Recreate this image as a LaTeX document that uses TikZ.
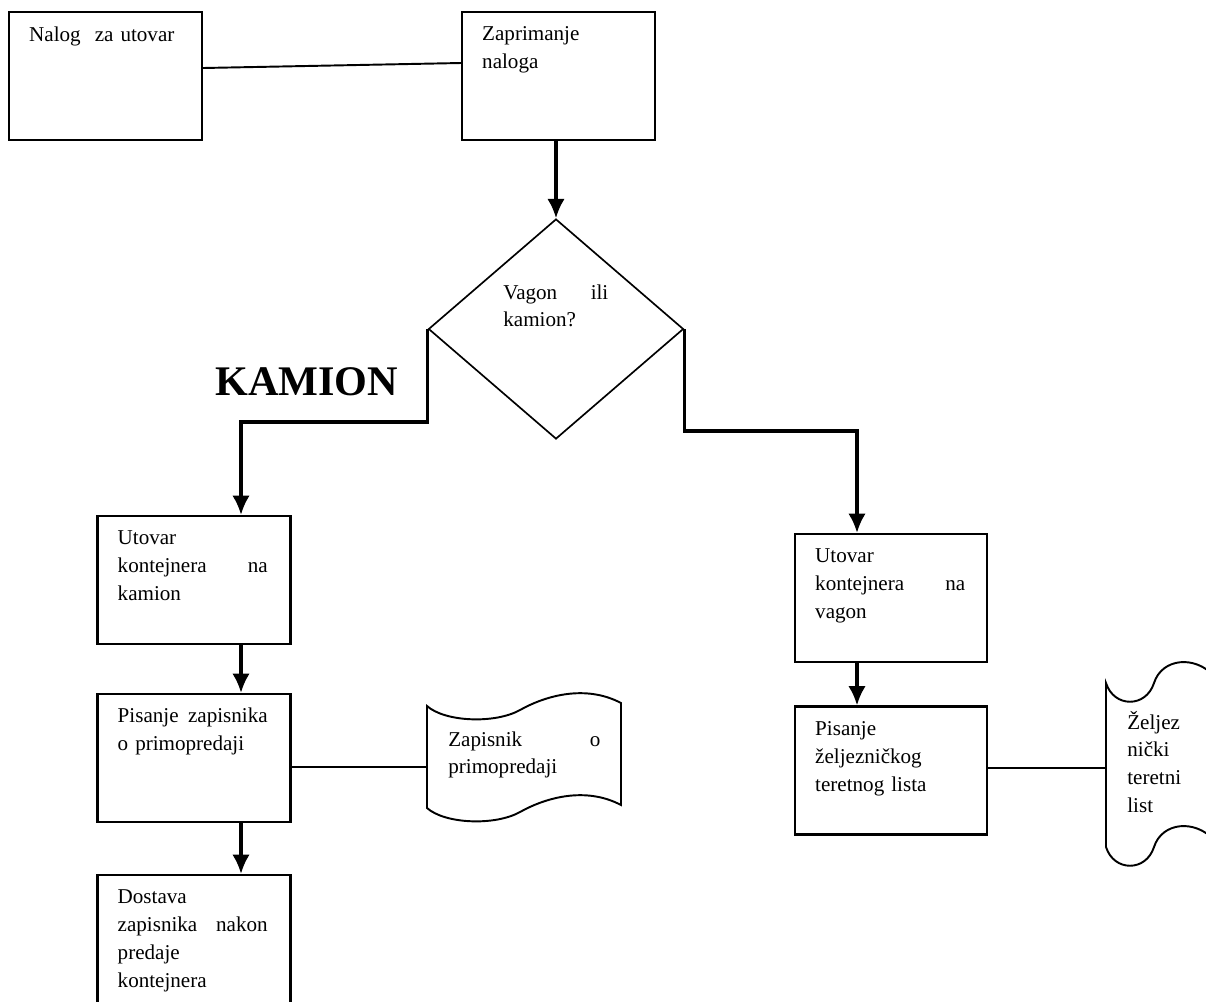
\documentclass[tikz,border=0pt]{standalone}
\usepackage{fontspec}
\setmainfont{Liberation Serif}
\usetikzlibrary{calc,positioning,shapes.geometric,arrows.meta}
\tikzset{
  box/.style={draw,line width=1.3pt,minimum width=3.86cm,minimum height=2.56cm,inner sep=0pt},
  txt/.style={anchor=base west,inner sep=0pt,text width=3cm,align=left,font=\fontsize{12}{15.9}\selectfont},
  arr/.style={-{Latex[length=11pt,width=10pt]},line width=1.8pt},
  veza/.style={line width=1.1pt}
}

\begin{document}
\begin{tikzpicture}
\useasboundingbox (0,0) rectangle (24.12,-20.02);

% top row
\node[box] (nalog) at (2.11,-1.52) {};
\node[txt] at ($(nalog.north west)+(0.42,-0.62)$) {Nalog\ \ za utovar};
\node[box] (zaprim) at (11.17,-1.52) {};
\node[txt] at ($(zaprim.north west)+(0.42,-0.60)$) {Zaprimanje\\naloga};
\draw[veza] ([yshift=0.16cm]nalog.east) -- ([yshift=0.26cm]zaprim.west);

% decision
\node[draw,diamond,line width=0.95pt,minimum width=5.1cm,minimum height=4.4cm,inner sep=0pt] (odluka) at (11.12,-6.58) {};
\node[txt,text width=2.1cm] at ($(odluka.center)+(-1.06,0.60)$) {Vagon\hfill ili\\kamion?};
\draw[arr] (zaprim.south -| odluka.north) -- (odluka.north);

\node[anchor=base west,inner sep=0pt,font=\fontsize{24}{28}\selectfont\bfseries] (kamion) at (4.30,-7.90) {KAMION};
\coordinate (kam) at (4.82,-8.44);
\coordinate (vag) at (17.14,-8.62);

% kamion branch
\node[box] (utovark) at (3.88,-11.60) {};
\node[txt] at ($(utovark.north west)+(0.42,-0.60)$) {Utovar\\kontejnera\hfill na\\kamion};
\node[box] (pisanjez) at (3.88,-15.16) {};
\node[txt] at ($(pisanjez.north west)+(0.42,-0.60)$) {Pisanje\hfill zapisnika\\o primopredaji};
\node[box] (dostava) at (3.88,-18.78) {};
\node[txt] at ($(dostava.north west)+(0.42,-0.60)$) {Dostava\\zapisnika\hfill nakon\\predaje\\kontejnera};
\draw[arr] (odluka.west) |- (kam) -- (utovark.north -| kam);
\draw[arr] (utovark.south -| kam) -- (pisanjez.north -| kam);
\draw[arr] (pisanjez.south -| kam) -- (dostava.north -| kam);

% zapisnik (tape)
\draw[veza] (8.54,-14.12) .. controls (8.90,-14.44) and (9.90,-14.48) .. (10.40,-14.20)
  .. controls (10.90,-13.92) and (11.70,-13.68) .. (12.42,-14.06) -- (12.42,-16.10)
  .. controls (11.70,-15.72) and (10.90,-15.96) .. (10.40,-16.24)
  .. controls (9.90,-16.52) and (8.90,-16.48) .. (8.54,-16.16) -- cycle;
\coordinate (zapisnik) at (8.54,-15.34);
\node[txt,text width=3.04cm] at (8.96,-14.92) {Zapisnik\hfill o\\primopredaji};
\draw[veza] (pisanjez.east |- zapisnik) -- (zapisnik);

% vagon branch
\node[box,minimum width=3.84cm] (utovarv) at (17.82,-11.96) {};
\node[txt] at ($(utovarv.north west)+(0.42,-0.60)$) {Utovar\\kontejnera\hfill na\\vagon};
\node[box,minimum width=3.84cm] (pisanjev) at (17.82,-15.41) {};
\node[txt] at ($(pisanjev.north west)+(0.42,-0.60)$) {Pisanje\\željezničkog\\teretnog lista};
\draw[arr] (odluka.east) |- (vag) -- (utovarv.north -| vag);
\draw[arr] (utovarv.south -| vag) -- (pisanjev.north -| vag);

% teretni list (tape)
\draw[veza] (22.12,-13.66) .. controls (22.28,-14.16) and (22.92,-14.16) .. (23.08,-13.66)
  .. controls (23.24,-13.16) and (23.90,-13.10) .. (24.28,-13.52) -- (24.28,-16.80)
  .. controls (23.90,-16.38) and (23.24,-16.44) .. (23.08,-16.94)
  .. controls (22.92,-17.44) and (22.28,-17.44) .. (22.12,-16.94) -- cycle;
\coordinate (tovarni) at (22.12,-15.36);
\node[txt,text width=1.5cm] at (22.54,-14.58) {Željez\\nički\\teretni\\list};
\draw[veza] (pisanjev.east |- tovarni) -- (tovarni);

\end{tikzpicture}
\end{document}
